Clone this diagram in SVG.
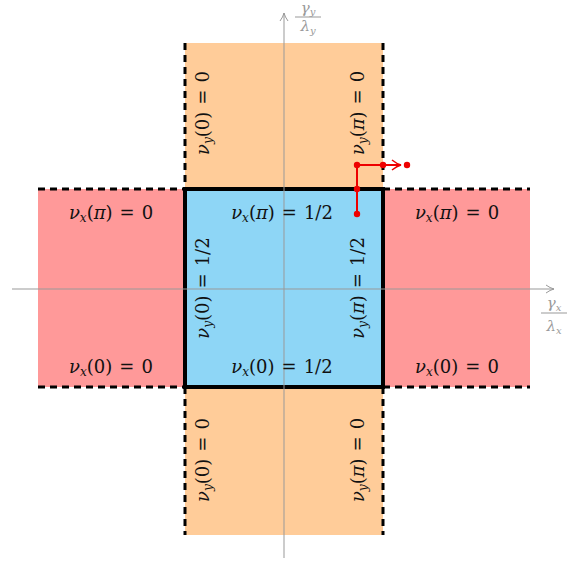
<svg xmlns="http://www.w3.org/2000/svg" width="585" height="565" viewBox="0 0 585 565">
<style>
.lbl{font-family:"DejaVu Serif","Liberation Serif",serif;font-size:18px;fill:#111;text-anchor:middle}
.i{font-style:italic}
.sub{font-style:italic;font-size:12px}
.dash{stroke:#000;stroke-width:3;stroke-dasharray:7,5;fill:none}
.ax{stroke:#999;stroke-width:1;fill:none}
.axl{font-family:"DejaVu Serif","Liberation Serif",serif;fill:#999;font-size:15px;text-anchor:middle;font-style:italic}
</style>
<defs>
<marker id="axh" viewBox="0 0 10 10" refX="9" refY="5" markerWidth="10" markerHeight="10" markerUnits="userSpaceOnUse" orient="auto">
<path d="M1,1 Q5,4 9,5 Q5,6 1,9" fill="none" stroke="#999" stroke-width="1"/>
</marker>
<marker id="rh" viewBox="0 0 12 12" refX="11" refY="6" markerWidth="12" markerHeight="12" markerUnits="userSpaceOnUse" orient="auto">
<path d="M2,1 Q7,5 11,6 Q7,7 2,11" fill="none" stroke="#e00" stroke-width="1.5"/>
</marker>
</defs>
<g id="bands">
<rect id="orange-band" x="185" y="43" width="198" height="492" fill="#FFCC99"/>
<rect id="red-band" x="38" y="189" width="492" height="198" fill="#FF9999"/>
<rect id="center" x="185" y="189" width="198" height="198" fill="#8ED6F6" stroke="#000" stroke-width="4"/>
</g>
<g id="boundaries">
<path class="dash" d="M185,43 V189 M383,43 V189 M185,387 V535 M383,387 V535 M38,189 H185 M383,189 H530 M38,387 H185 M383,387 H530"/>
</g>
<g id="axes">
<line class="ax" x1="284" y1="558" x2="284" y2="13" marker-end="url(#axh)"/>
<line class="ax" x1="12" y1="289" x2="554" y2="289" marker-end="url(#axh)"/>
<text class="axl" x="308" y="13" font-size="13">γ<tspan font-size="10" dy="2">y</tspan></text>
<line x1="295" y1="17" x2="321" y2="17" stroke="#999" stroke-width="1"/>
<text class="axl" x="308" y="31" font-style="normal">λ<tspan font-size="10" dy="3" font-style="italic">y</tspan></text>
<text class="axl" x="554" y="308">γ<tspan font-size="10" dy="3">x</tspan></text>
<line x1="541" y1="313" x2="567" y2="313" stroke="#999" stroke-width="1"/>
<text class="axl" x="554" y="331" font-style="normal">λ<tspan font-size="10" dy="3" font-style="italic">x</tspan></text>
</g>
<g id="labels">
<text class="lbl" x="111" y="219"><tspan class="i">ν</tspan><tspan class="sub" dy="3">x</tspan><tspan dy="-3">(</tspan><tspan class="i">π</tspan>)<tspan dx="7">=</tspan><tspan dx="7">0</tspan></text>
<text class="lbl" x="457" y="219"><tspan class="i">ν</tspan><tspan class="sub" dy="3">x</tspan><tspan dy="-3">(</tspan><tspan class="i">π</tspan>)<tspan dx="7">=</tspan><tspan dx="7">0</tspan></text>
<text class="lbl" x="111" y="373"><tspan class="i">ν</tspan><tspan class="sub" dy="3">x</tspan><tspan dy="-3">(0)</tspan><tspan dx="7">=</tspan><tspan dx="7">0</tspan></text>
<text class="lbl" x="457" y="373"><tspan class="i">ν</tspan><tspan class="sub" dy="3">x</tspan><tspan dy="-3">(0)</tspan><tspan dx="7">=</tspan><tspan dx="7">0</tspan></text>
<text class="lbl" x="282" y="219"><tspan class="i">ν</tspan><tspan class="sub" dy="3">x</tspan><tspan dy="-3">(</tspan><tspan class="i">π</tspan>)<tspan dx="7">=</tspan><tspan dx="7">1/2</tspan></text>
<text class="lbl" x="282" y="373"><tspan class="i">ν</tspan><tspan class="sub" dy="3">x</tspan><tspan dy="-3">(0)</tspan><tspan dx="7">=</tspan><tspan dx="7">1/2</tspan></text>
<g transform="translate(209,113) rotate(-90)"><text class="lbl" x="0" y="0"><tspan class="i">ν</tspan><tspan class="sub" dy="3">y</tspan><tspan dy="-3">(0)</tspan><tspan dx="7">=</tspan><tspan dx="7">0</tspan></text></g>
<g transform="translate(364,113) rotate(-90)"><text class="lbl" x="0" y="0"><tspan class="i">ν</tspan><tspan class="sub" dy="3">y</tspan><tspan dy="-3">(</tspan><tspan class="i">π</tspan>)<tspan dx="7">=</tspan><tspan dx="7">0</tspan></text></g>
<g transform="translate(209,288) rotate(-90)"><text class="lbl" x="0" y="0"><tspan class="i">ν</tspan><tspan class="sub" dy="3">y</tspan><tspan dy="-3">(0)</tspan><tspan dx="7">=</tspan><tspan dx="7">1/2</tspan></text></g>
<g transform="translate(364,288) rotate(-90)"><text class="lbl" x="0" y="0"><tspan class="i">ν</tspan><tspan class="sub" dy="3">y</tspan><tspan dy="-3">(</tspan><tspan class="i">π</tspan>)<tspan dx="7">=</tspan><tspan dx="7">1/2</tspan></text></g>
<g transform="translate(209,460) rotate(-90)"><text class="lbl" x="0" y="0"><tspan class="i">ν</tspan><tspan class="sub" dy="3">y</tspan><tspan dy="-3">(0)</tspan><tspan dx="7">=</tspan><tspan dx="7">0</tspan></text></g>
<g transform="translate(364,460) rotate(-90)"><text class="lbl" x="0" y="0"><tspan class="i">ν</tspan><tspan class="sub" dy="3">y</tspan><tspan dy="-3">(</tspan><tspan class="i">π</tspan>)<tspan dx="7">=</tspan><tspan dx="7">0</tspan></text></g>
</g>
<g id="path">
<polyline points="357,214 357,165 383,165 401,165" fill="none" stroke="#e00" stroke-width="2" marker-end="url(#rh)"/>
<g fill="#e00">
<circle cx="357" cy="214" r="3.2"/>
<circle cx="357" cy="189" r="3.2"/>
<circle cx="357" cy="165" r="3.2"/>
<circle cx="383" cy="165" r="3.2"/>
<circle cx="407" cy="165" r="3.2"/>
</g>
</g>
</svg>
